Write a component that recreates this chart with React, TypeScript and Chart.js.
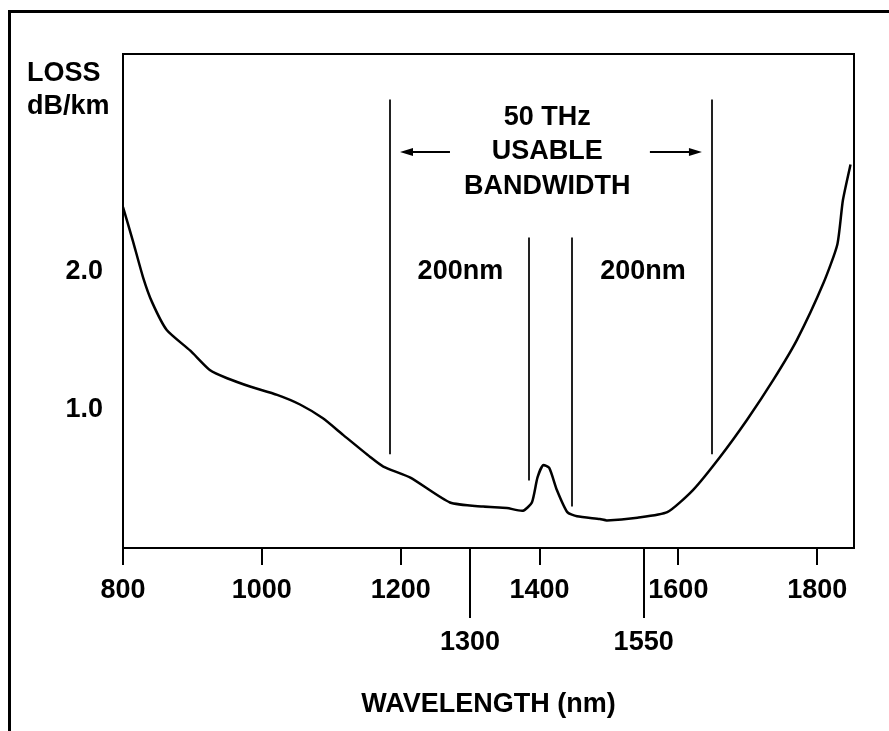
import React, { useEffect, useRef } from 'react';
import { Chart, registerables } from 'chart.js';

Chart.register(...registerables);

const FONT = '"Liberation Sans", Arial, Helvetica, sans-serif';

// Fibre loss curve (wavelength in nm, loss in dB/km)
const wavelengthNm = [
  800, 814, 829, 842, 863, 897, 925, 950, 983, 1022, 1055, 1088, 1117, 1156, 1175,
  1214, 1271, 1319, 1353, 1376, 1389, 1397, 1405, 1414, 1425, 1440, 1454, 1487,
  1497, 1541, 1584, 1621, 1660, 1699, 1737, 1771, 1809, 1829, 1837, 1848,
];
const lossDbKm = [
  2.47, 2.23, 1.96, 1.78, 1.58, 1.43, 1.29, 1.23, 1.17, 1.11, 1.04, 0.94, 0.82, 0.66, 0.59,
  0.51, 0.33, 0.3, 0.29, 0.27, 0.33, 0.51, 0.6, 0.58, 0.42, 0.26, 0.23, 0.21,
  0.2, 0.22, 0.26, 0.42, 0.66, 0.93, 1.22, 1.51, 1.92, 2.2, 2.52, 2.78,
];

const xMajorTicks = [800, 1000, 1200, 1400, 1600, 1800];
const xLowerTicks = [1300, 1550];
const yTickValues = [1, 2];

// Band marker lines: wavelength, loss at bottom end, loss at top end
const bandLineX = [1185, 1385, 1447, 1649];
const bandLineBottom = [0.68, 0.49, 0.3, 0.68];
const bandLineTop = [3.25, 2.25, 2.25, 3.25];

const titleLines = ['50 THz', 'USABLE', 'BANDWIDTH'];
const titleLineLoss = [3.12, 2.87, 2.62];
const titleCenterNm = 1411;
const arrowLoss = 2.87;
const leftArrowNm = [1271, 1199];
const rightArrowNm = [1559, 1634];
const spanLabels = ['200nm', '200nm'];
const spanLabelNm = [1286, 1549];
const spanLabelLoss = [2.0, 2.0];

const annotatePlugin = {
  id: 'annotate',
  beforeDraw(chart: any) {
    const ctx = chart.ctx;
    ctx.save();
    ctx.fillStyle = '#ffffff';
    ctx.fillRect(0, 0, chart.width, chart.height);
    ctx.fillStyle = '#000000';
    ctx.fillRect(8, 10, chart.width - 8, 3);
    ctx.fillRect(8, 10, 3, chart.height - 10);
    ctx.restore();
  },
  afterDraw(chart: any) {
    const { ctx, chartArea: a } = chart;
    const x = chart.scales.x;
    const y = chart.scales.y;
    ctx.save();
    ctx.strokeStyle = '#000';
    ctx.lineWidth = 2;
    ctx.beginPath();
    ctx.moveTo(a.left, a.top);
    ctx.lineTo(a.right, a.top);
    ctx.lineTo(a.right, a.bottom);
    ctx.stroke();

    // long ticks for 1300 / 1550
    ctx.beginPath();
    for (const v of xLowerTicks) {
      const px = Math.round(x.getPixelForValue(v));
      ctx.moveTo(px, a.bottom);
      ctx.lineTo(px, a.bottom + 70);
    }
    ctx.stroke();

    // band lines
    ctx.strokeStyle = '#222';
    ctx.lineWidth = 2;
    ctx.beginPath();
    bandLineX.forEach((v, i) => {
      const px = Math.round(x.getPixelForValue(v));
      ctx.moveTo(px, y.getPixelForValue(bandLineBottom[i]));
      ctx.lineTo(px, y.getPixelForValue(bandLineTop[i]));
    });
    ctx.stroke();

    // arrows
    const drawArrow = (fromNm: number, toNm: number) => {
      const x0 = x.getPixelForValue(fromNm);
      const x1 = x.getPixelForValue(toNm);
      const py = y.getPixelForValue(arrowLoss);
      const dir = Math.sign(x1 - x0);
      ctx.strokeStyle = '#000';
      ctx.lineWidth = 2;
      ctx.beginPath();
      ctx.moveTo(x0, py);
      ctx.lineTo(x1 - dir * 8, py);
      ctx.stroke();
      ctx.fillStyle = '#000';
      ctx.beginPath();
      ctx.moveTo(x1, py);
      ctx.lineTo(x1 - dir * 13, py - 4);
      ctx.lineTo(x1 - dir * 13, py + 4);
      ctx.closePath();
      ctx.fill();
    };
    drawArrow(leftArrowNm[0], leftArrowNm[1]);
    drawArrow(rightArrowNm[0], rightArrowNm[1]);

    // texts
    ctx.fillStyle = '#000';
    ctx.font = `bold 27px ${FONT}`;
    ctx.textAlign = 'center';
    ctx.textBaseline = 'middle';
    titleLines.forEach((t, i) => {
      ctx.fillText(t, x.getPixelForValue(titleCenterNm), y.getPixelForValue(titleLineLoss[i]));
    });
    spanLabels.forEach((t, i) => {
      ctx.fillText(t, x.getPixelForValue(spanLabelNm[i]), y.getPixelForValue(spanLabelLoss[i]));
    });

    // y-axis unit label
    ctx.textAlign = 'left';
    ctx.textBaseline = 'alphabetic';
    ctx.fillText('LOSS', a.left - 96, a.top + 27);
    ctx.fillText('dB/km', a.left - 96, a.top + 60);
    ctx.restore();
  },
};

export default function App() {
  const canvasRef = useRef<HTMLCanvasElement | null>(null);

  useEffect(() => {
    const canvas = canvasRef.current;
    if (!canvas) return;
    const points = wavelengthNm.map((w, i) => ({ x: w, y: lossDbKm[i] }));
    const chart = new Chart(canvas, {
      type: 'line',
      data: {
        datasets: [
          {
            data: points,
            borderColor: '#000',
            borderWidth: 2.5,
            pointRadius: 0,
            fill: false,
            tension: 0.2,
            borderJoinStyle: 'round',
          },
        ],
      },
      options: {
        animation: false,
        responsive: false,
        events: [],
        layout: { padding: { top: 54, right: 35, left: 0, bottom: 0 } },
        plugins: { legend: { display: false }, tooltip: { enabled: false } },
        scales: {
          x: {
            type: 'linear',
            min: 800,
            max: 1853,
            afterBuildTicks: (scale: any) => {
              scale.ticks = [...xMajorTicks, ...xLowerTicks]
                .sort((p, q) => p - q)
                .map((v) => ({ value: v }));
            },
            afterFit: (scale: any) => {
              scale.height = 183;
            },
            grid: {
              display: true,
              drawOnChartArea: false,
              drawTicks: true,
              tickLength: 17,
              color: '#000',
              lineWidth: 2,
            },
            border: { display: true, color: '#000', width: 2 },
            ticks: {
              autoSkip: false,
              maxRotation: 0,
              minRotation: 0,
              padding: 0,
              color: '#000',
              font: { family: FONT, size: 27, weight: 'bold', lineHeight: 52 / 27 },
              callback: (v: any) => (xLowerTicks.includes(v) ? ['', String(v)] : String(v)),
            },
            title: {
              display: true,
              text: 'WAVELENGTH (nm)',
              color: '#000',
              font: { family: FONT, size: 27, weight: 'bold' },
              padding: { top: 0, bottom: 10 },
            },
          },
          y: {
            type: 'linear',
            min: 0,
            max: 3.58,
            afterBuildTicks: (scale: any) => {
              scale.ticks = yTickValues.map((v) => ({ value: v }));
            },
            afterFit: (scale: any) => {
              scale.width = 123;
            },
            grid: { display: false },
            border: { display: true, color: '#000', width: 2 },
            ticks: {
              padding: 12,
              color: '#000',
              font: { family: FONT, size: 27, weight: 'bold' },
              callback: (v: any) => Number(v).toFixed(1),
            },
          },
        },
      },
      plugins: [annotatePlugin],
    } as any);
    return () => chart.destroy();
  }, []);

  return (
    <div style={{ position: 'fixed', left: 0, top: 0, width: 889, height: 731, background: '#fff' }}>
      <canvas ref={canvasRef} width={889} height={731} style={{ display: 'block' }} />
    </div>
  );
}
